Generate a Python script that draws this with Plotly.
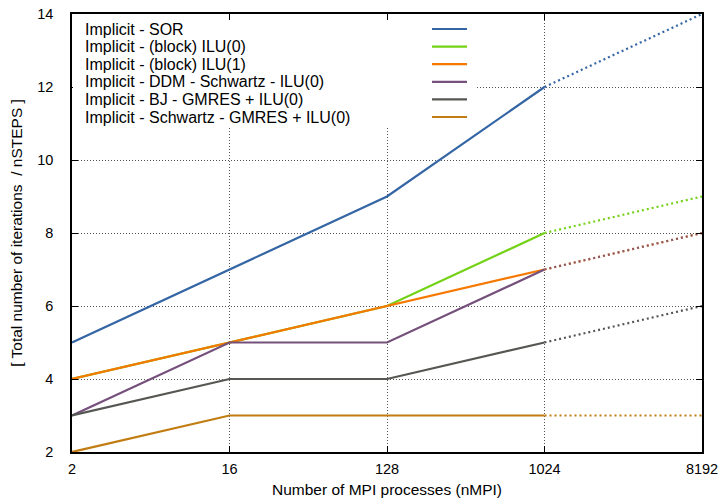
import plotly.graph_objects as go

# Number of MPI processes (x) and iterations per step for each solver
nmpi = [2, 16, 128, 1024, 8192]
x_ticks = [2, 16, 128, 1024, 8192]
y_ticks = [2, 4, 6, 8, 10, 12, 14]

series_names = [
    "Implicit - SOR",
    "Implicit - (block) ILU(0)",
    "Implicit - (block) ILU(1)",
    "Implicit - DDM - Schwartz - ILU(0)",
    "Implicit - BJ - GMRES + ILU(0)",
    "Implicit - Schwartz - GMRES + ILU(0)",
]
sor = [5, 7, 9, 12, 14]
ilu0_block = [4, 5, 6, 8, 9]
ilu1_block = [4, 5, 6, 7, 8]
ddm_schwartz = [3, 5, 5, 7, 8]
bj_gmres = [3, 4, 4, 5, 6]
schwartz_gmres = [2, 3, 3, 3, 3]
series_values = [sor, ilu0_block, ilu1_block, ddm_schwartz, bj_gmres, schwartz_gmres]
colors = ["#3465a4", "#73d216", "#f57900", "#75507b", "#555753", "#c17d11"]

# measured up to 1024 processes, extrapolated (dotted) beyond
n_measured = 4

FONT = "Liberation Sans, Arial, Helvetica, sans-serif"

fig = go.Figure()

# extrapolated parts first so the solid lines sit on top
for name, vals, col in zip(series_names, series_values, colors):
    fig.add_trace(go.Scatter(
        x=nmpi[n_measured - 1:], y=vals[n_measured - 1:], mode="lines",
        line=dict(color=col, width=2.2, dash="2px,3px"),
        opacity=0.8 if col == "#75507b" else 1.0,
        showlegend=False, hoverinfo="skip",
    ))
for name, vals, col in zip(series_names, series_values, colors):
    fig.add_trace(go.Scatter(
        x=nmpi[:n_measured], y=vals[:n_measured], mode="lines",
        line=dict(color=col, width=2.2), name=name, showlegend=False,
    ))

# plot area in pixels: left 72, right 702, top 14, bottom 452
L, R, T, B = 72, 702, 14, 452
W, H = R - L, B - T


def px_x(p):
    return (p - L) / W


def px_y(p):
    return (B - p) / H


shapes = [
    # white key box hiding the grid behind the legend
    dict(type="rect", xref="paper", yref="paper", layer="above",
         x0=px_x(L + 1), x1=px_x(477), y0=px_y(127), y1=px_y(T + 6),
         fillcolor="white", line=dict(width=0)),
]
annotations = []
row_y = [29, 46.6, 64.2, 81.8, 99.4, 117]
for name, col, ry in zip(series_names, colors, row_y):
    annotations.append(dict(
        xref="paper", yref="paper", x=px_x(83), y=px_y(ry),
        xanchor="left", yanchor="middle", text=name, showarrow=False,
        font=dict(family=FONT, size=16, color="black"),
    ))
    shapes.append(dict(
        type="line", xref="paper", yref="paper", layer="above",
        x0=px_x(432), x1=px_x(467), y0=px_y(ry), y1=px_y(ry),
        line=dict(color=col, width=2.2),
    ))

axis_common = dict(
    showline=True, linecolor="black", linewidth=1.5, mirror="ticks",
    ticks="inside", ticklen=6, tickcolor="black", tickwidth=1,
    showgrid=True, gridcolor="#555555", griddash="1px,2px", gridwidth=1,
    zeroline=False, automargin=False,
    tickfont=dict(family=FONT, size=14.5, color="black"),
)

fig.update_layout(
    width=723, height=501,
    margin=dict(l=L, r=723 - R, t=T, b=501 - B),
    paper_bgcolor="white", plot_bgcolor="white",
    font=dict(family=FONT, size=14, color="black"),
    shapes=shapes, annotations=annotations,
    xaxis=dict(
        type="log", range=[0.30103, 3.91339],
        tickvals=x_ticks, ticktext=[str(v) for v in x_ticks],
        title=dict(text="Number of MPI processes (nMPI)", standoff=8,
                   font=dict(family=FONT, size=15.5)),
        ticklabelstandoff=3,
        **axis_common,
    ),
    yaxis=dict(
        range=[2, 14], tickvals=y_ticks,
        title=dict(text="[ Total number of iterations \u00a0/ nSTEPS ]", standoff=11,
                   font=dict(family=FONT, size=15.5)),
        ticklabelstandoff=14,
        **axis_common,
    ),
)

fig.write_html("out.html")
